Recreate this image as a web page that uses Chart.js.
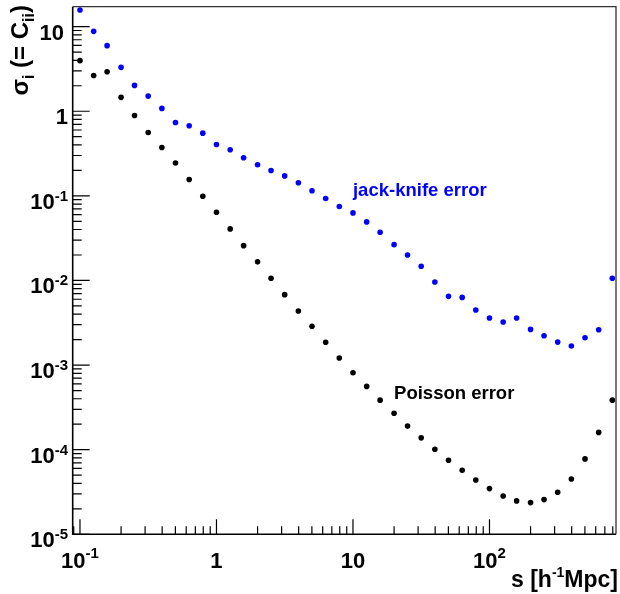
<!DOCTYPE html>
<html>
<head>
<meta charset="utf-8">
<script src="https://cdn.jsdelivr.net/npm/chart.js@4/dist/chart.umd.min.js"></script>
<style>
  html, body { margin: 0; padding: 0; background: #ffffff; }
  #wrap { width: 620px; height: 594px; }
</style>
</head>
<body>
<div id="wrap"><canvas id="c" width="620" height="594"></canvas></div>
<script>
// ---- data ----
const sValues = [0.1, 0.126, 0.158, 0.2, 0.251, 0.316, 0.398, 0.501, 0.631, 0.794,
                 1, 1.26, 1.58, 2, 2.51, 3.16, 3.98, 5.01, 6.31, 7.94,
                 10, 12.6, 15.8, 20, 25.1, 31.6, 39.8, 50.1, 63.1, 79.4,
                 100, 126, 158, 200, 251, 316, 398, 501, 631, 794];
const jackKnifeErr = [15.7, 8.8, 5.96, 3.30, 2.02, 1.51, 1.08, 0.737, 0.673, 0.551,
                      0.404, 0.350, 0.282, 0.233, 0.199, 0.172, 0.143, 0.115, 0.0929, 0.0747,
                      0.0629, 0.0492, 0.0371, 0.0265, 0.0200, 0.0147, 0.00959, 0.00649, 0.00631, 0.00448,
                      0.00360, 0.00323, 0.00360, 0.00264, 0.00222, 0.00187, 0.00168, 0.00210, 0.00261, 0.0106];
const poissonErr = [3.96, 2.65, 2.93, 1.46, 0.891, 0.561, 0.373, 0.244, 0.156, 0.0991,
                    0.0641, 0.0407, 0.0258, 0.0166, 0.0106, 0.0068, 0.00435, 0.00288, 0.00186, 0.00121,
                    0.000811, 0.000560, 0.000385, 0.000270, 0.000190, 0.000138, 0.000101, 7.51e-5, 5.72e-5, 4.39e-5,
                    3.47e-5, 2.84e-5, 2.48e-5, 2.37e-5, 2.57e-5, 3.14e-5, 4.51e-5, 7.78e-5, 1.60e-4, 3.85e-4];
const xTickExponents = [-1, 0, 1, 2];
const yTickExponents = [1, 0, -1, -2, -3, -4, -5];
const seriesNames = ['jack-knife error', 'Poisson error'];
const labelAnchors = [[10, 0.1], [20, 4e-4]];   // data coordinates of the in-plot texts
const xRange = [0.08845, 845];
const yRange = [1e-5, 17.2];

const FONT = "'Liberation Sans', Arial, Helvetica, sans-serif";
const BLUE = '#0000ff';

function expLabel(e) {
  if (e === 0) return { base: '1', sup: '' };
  if (e === 1) return { base: '10', sup: '' };
  return { base: '10', sup: String(e) };
}

const rootAxes = {
  id: 'rootAxes',
  afterDatasetsDraw(chart) {
    const ctx = chart.ctx;
    const xs = chart.scales.x, ys = chart.scales.y;
    const a = chart.chartArea;
    ctx.save();
    // frame
    ctx.strokeStyle = '#333333';
    ctx.lineWidth = 1.3;
    ctx.beginPath();
    ctx.moveTo(a.left, a.top); ctx.lineTo(a.right, a.top); ctx.lineTo(a.right, a.bottom);
    ctx.stroke();
    // axes
    ctx.strokeStyle = '#000000';
    ctx.lineWidth = 1.6;
    ctx.beginPath();
    ctx.moveTo(a.left, a.top); ctx.lineTo(a.left, a.bottom); ctx.lineTo(a.right, a.bottom);
    ctx.stroke();
    // ticks
    ctx.lineWidth = 1.2;
    ctx.beginPath();
    for (let d = -6; d <= 3; d++) {
      for (let m = 1; m <= 9; m++) {
        const v = m * Math.pow(10, d);
        if (v >= xs.min && v <= xs.max) {
          const px = xs.getPixelForValue(v);
          const len = m === 1 ? 15 : 8;
          ctx.moveTo(px, a.bottom); ctx.lineTo(px, a.bottom - len);
        }
        if (v >= ys.min * 0.999 && v <= ys.max) {
          const py = ys.getPixelForValue(v);
          const len = m === 1 ? 17 : 9;
          ctx.moveTo(a.left, py); ctx.lineTo(a.left + len, py);
        }
      }
    }
    ctx.stroke();

    // tick labels
    ctx.fillStyle = '#000000';
    ctx.textBaseline = 'alphabetic';
    const baseFont = 'bold 22px ' + FONT;
    const supFont = 'bold 15px ' + FONT;
    // x labels
    xTickExponents.forEach(e => {
      const lab = expLabel(e);
      const px = xs.getPixelForValue(Math.pow(10, e));
      ctx.font = baseFont; const wb = ctx.measureText(lab.base).width;
      ctx.font = supFont; const ws = lab.sup ? ctx.measureText(lab.sup).width : 0;
      const x0 = px - (wb + ws) / 2;
      ctx.font = baseFont; ctx.textAlign = 'left';
      ctx.fillText(lab.base, x0, 568);
      if (lab.sup) { ctx.font = supFont; ctx.fillText(lab.sup, x0 + wb, 558); }
    });
    // y labels
    yTickExponents.forEach(e => {
      const lab = expLabel(e);
      const py = ys.getPixelForValue(Math.pow(10, e));
      ctx.font = baseFont; const wb = ctx.measureText(lab.base).width;
      ctx.font = supFont; const ws = lab.sup ? ctx.measureText(lab.sup).width : 0;
      const right = (e === 1) ? 64 : 68;
      const x0 = right - wb - ws;
      ctx.font = baseFont; ctx.textAlign = 'left';
      ctx.fillText(lab.base, x0, py + 13);
      if (lab.sup) { ctx.font = supFont; ctx.fillText(lab.sup, x0 + wb, py + 5); }
    });

    // x title: s [h^-1 Mpc]
    {
      const tf = 'bold 23px ' + FONT, sf = 'bold 14px ' + FONT;
      const parts = [['s [h', tf, 0], ['-1', sf, -10], ['Mpc]', tf, 0]];
      let total = 0;
      parts.forEach(p => { ctx.font = p[1]; total += ctx.measureText(p[0]).width; });
      let x = 618 - total;
      parts.forEach(p => { ctx.font = p[1]; ctx.fillText(p[0], x, 587 + p[2]); x += ctx.measureText(p[0]).width; });
    }
    // y title: sigma_i (= C_ii), rotated
    {
      const tf = 'bold 24px ' + FONT, sf = 'bold 16px ' + FONT;
      const parts = [['\u03C3', tf, 0], ['i', sf, 6], [' (= C', tf, 0], ['ii', sf, 6], [')', tf, 0]];
      let total = 0;
      parts.forEach(p => { ctx.font = p[1]; total += ctx.measureText(p[0]).width; });
      ctx.save();
      ctx.translate(28, 5 + total);
      ctx.rotate(-Math.PI / 2);
      let x = 0;
      parts.forEach(p => { ctx.font = p[1]; ctx.fillText(p[0], x, p[2]); x += ctx.measureText(p[0]).width; });
      ctx.restore();
    }
    // in-plot texts
    ctx.font = 'bold 18.5px ' + FONT;
    ctx.textAlign = 'left';
    const colors = [BLUE, '#000000'];
    labelAnchors.forEach((pt, i) => {
      ctx.fillStyle = colors[i];
      ctx.fillText(seriesNames[i], xs.getPixelForValue(pt[0]), ys.getPixelForValue(pt[1]));
    });
    ctx.restore();
  }
};

const toPts = arr => sValues.map((s, i) => ({ x: s, y: arr[i] }));

new Chart(document.getElementById('c'), {
  type: 'scatter',
  data: {
    datasets: [
      { label: seriesNames[0], data: toPts(jackKnifeErr), pointRadius: 2.8, pointBackgroundColor: BLUE, pointBorderWidth: 0, borderColor: BLUE, showLine: false },
      { label: seriesNames[1], data: toPts(poissonErr), pointRadius: 2.8, pointBackgroundColor: '#000000', pointBorderWidth: 0, borderColor: '#000000', showLine: false }
    ]
  },
  options: {
    responsive: false,
    animation: false,
    devicePixelRatio: 1,
    layout: { padding: { left: 72.7, right: 3.3, top: 6.7, bottom: 59.7 } },
    plugins: { legend: { display: false }, tooltip: { enabled: false } },
    scales: {
      x: { type: 'logarithmic', min: xRange[0], max: xRange[1], display: false },
      y: { type: 'logarithmic', min: yRange[0], max: yRange[1], display: false }
    }
  },
  plugins: [rootAxes]
});
</script>
</body>
</html>
